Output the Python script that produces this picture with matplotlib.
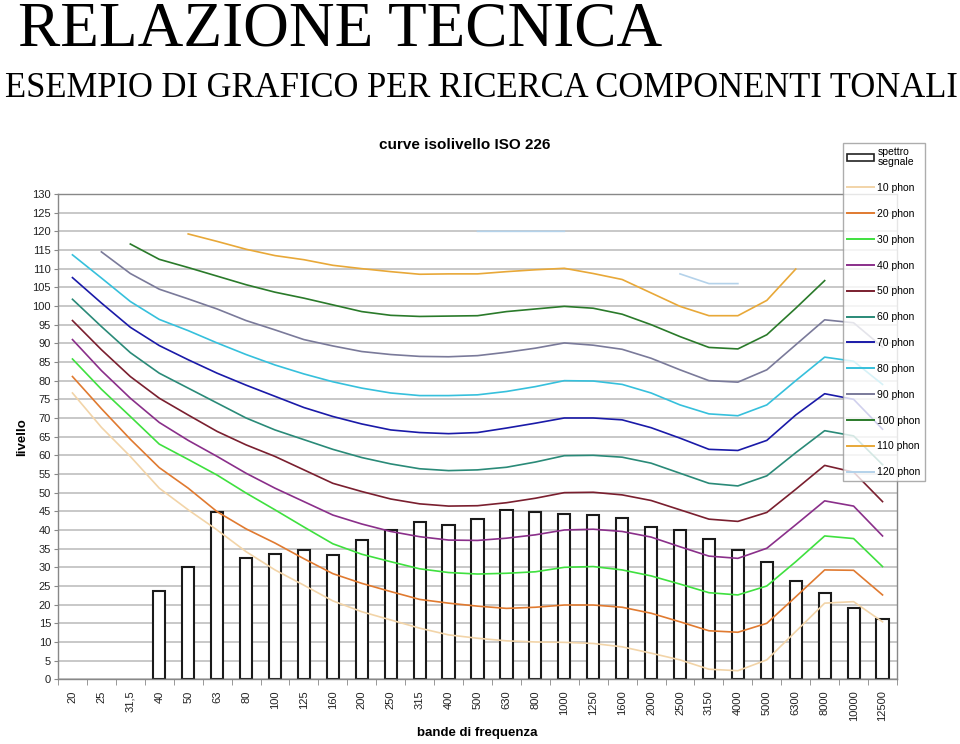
import numpy as np
import matplotlib
matplotlib.use("Agg")
import matplotlib.pyplot as plt
from matplotlib.patches import Patch
from matplotlib.lines import Line2D

nan = np.nan

# bande di frequenza (terzi d'ottava)
bande = ['20', '25', '31,5', '40', '50', '63', '80', '100', '125', '160', '200',
         '250', '315', '400', '500', '630', '800', '1000', '1250', '1600', '2000',
         '2500', '3150', '4000', '5000', '6300', '8000', '10000', '12500']

# spettro del segnale misurato
spettro = [nan, nan, nan, 23.7, 30.2, 44.7, 32.6, 33.5, 34.7, 33.4, 37.3, 39.9, 42.1, 41.3,
           43.0, 45.3, 44.8, 44.4, 43.9, 43.2, 40.9, 40.0, 37.5, 34.6, 31.4, 26.4, 23.1, 19.1, 16.1]

# curve isolivello
phon10 = [76.7, 67.5, 59.7, 51.2, 45.4, 40.0, 34.2, 29.3, 25.2, 21.0, 18.1, 15.9, 13.7, 11.9,
          11.0, 10.3, 10.0, 9.9, 9.6, 8.7, 7.0, 5.2, 2.7, 2.3, 5.2, 12.8, 20.4, 20.8, 15.4]
phon20 = [81.1, 72.5, 64.3, 56.7, 51.2, 44.9, 40.3, 36.5, 32.3, 28.3, 25.7, 23.5, 21.4, 20.4,
          19.6, 19.0, 19.3, 19.9, 19.9, 19.3, 17.7, 15.4, 13.0, 12.6, 15.0, 22.1, 29.3, 29.2, 22.6]
phon30 = [85.8, 77.7, 70.4, 63.0, 58.9, 54.7, 49.9, 45.4, 40.8, 36.3, 33.5, 31.5, 29.6, 28.6,
          28.2, 28.4, 28.8, 30.0, 30.2, 29.3, 27.7, 25.5, 23.2, 22.6, 25.0, 31.5, 38.4, 37.7, 30.2]
phon40 = [91.0, 82.7, 75.3, 68.8, 64.0, 59.7, 55.2, 51.2, 47.6, 44.0, 41.6, 39.6, 38.2, 37.3,
          37.2, 37.8, 38.7, 40.0, 40.2, 39.6, 38.1, 35.5, 33.0, 32.4, 35.1, 41.4, 47.8, 46.4, 38.4]
phon50 = [96.1, 88.3, 81.1, 75.3, 70.8, 66.4, 62.8, 59.7, 56.1, 52.5, 50.3, 48.3, 47.0, 46.4,
          46.5, 47.3, 48.5, 50.0, 50.1, 49.4, 47.9, 45.4, 42.9, 42.3, 44.7, 50.9, 57.3, 55.5, 47.6]
phon60 = [101.8, 94.5, 87.5, 82.0, 78.0, 74.0, 70.0, 66.8, 64.2, 61.6, 59.4, 57.7, 56.4, 55.9,
          56.1, 56.8, 58.2, 59.9, 60.0, 59.5, 57.9, 55.2, 52.5, 51.8, 54.5, 60.7, 66.6, 65.2, 57.5]
phon70 = [107.6, 100.8, 94.3, 89.4, 85.6, 82.0, 78.8, 75.8, 72.8, 70.4, 68.4, 66.8, 66.1, 65.8,
          66.1, 67.3, 68.6, 70.0, 70.0, 69.5, 67.4, 64.6, 61.6, 61.3, 64.0, 70.8, 76.5, 75.0, 67.0]
phon80 = [113.7, 107.5, 101.2, 96.4, 93.4, 90.1, 87.0, 84.2, 81.8, 79.7, 78.0, 76.7, 76.0, 76.0,
          76.2, 77.1, 78.4, 80.0, 79.9, 79.0, 76.7, 73.5, 71.1, 70.6, 73.5, 80.0, 86.3, 85.2, 79.0]
phon90 = [nan, 114.5, 108.7, 104.5, 101.9, 99.2, 96.1, 93.6, 91.0, 89.3, 87.8, 87.0, 86.5, 86.4,
          86.7, 87.6, 88.7, 90.1, 89.5, 88.4, 86.0, 82.9, 80.0, 79.6, 82.9, 89.6, 96.3, 95.5, 89.0]
phon100 = [nan, nan, 116.6, 112.5, 110.3, 108.0, 105.7, 103.7, 102.1, 100.3, 98.5, 97.5, 97.2, 97.3,
           97.4, 98.5, 99.2, 99.9, 99.4, 97.8, 95.0, 91.8, 88.9, 88.5, 92.3, 99.4, 106.8, nan, nan]
phon110 = [nan, nan, nan, nan, 119.3, 117.3, 115.2, 113.5, 112.4, 110.9, 110.0, 109.2, 108.5, 108.6,
           108.6, 109.2, 109.7, 110.1, 108.7, 107.1, 103.5, 99.9, 97.4, 97.4, 101.5, 109.9, nan, nan, nan]
phon120 = [nan, nan, nan, nan, nan, nan, nan, nan, nan, nan, nan, nan, nan, nan,
           120.0, 120.0, 120.0, 120.0, nan, nan, nan, 108.6, 106.0, 106.0, nan, nan, nan, nan, nan]

curve = [phon10, phon20, phon30, phon40, phon50, phon60, phon70, phon80, phon90, phon100, phon110, phon120]
nomi = ['10 phon', '20 phon', '30 phon', '40 phon', '50 phon', '60 phon', '70 phon',
        '80 phon', '90 phon', '100 phon', '110 phon', '120 phon']
colori = ['#f2d4a8', '#e07a30', '#3fe03f', '#8a2f8a', '#7a1f2f', '#2a8a78', '#1a1aa8',
          '#36c0dc', '#7a7a9a', '#2a7a2a', '#e8a838', '#b4d2ea']

plt.rcParams['font.family'] = ['Liberation Sans', 'DejaVu Sans']

fig = plt.figure(figsize=(9.6, 7.44), dpi=100)
ax = fig.add_axes([58 / 960, 1 - 679.3 / 744, 839 / 960, 485.3 / 744])

x = np.arange(len(bande))

ax.bar(x, np.array(spettro, dtype=float), width=0.42, facecolor='white',
       edgecolor='#1a1a1a', linewidth=1.5, zorder=2)

for valori, col in zip(curve, colori):
    ax.plot(x, np.array(valori, dtype=float), color=col, linewidth=1.2, zorder=3)

ax.set_xlim(-0.5, len(bande) - 0.5)
ax.set_ylim(0, 130)
ax.set_yticks(np.arange(0, 131, 5))
ax.yaxis.grid(True, color='#c4c4c4', linewidth=1.3, zorder=0)
ax.set_axisbelow(True)
for s in ax.spines.values():
    s.set_color('#888888')
    s.set_linewidth(1.0)

ax.set_xticks(x)
ax.set_xticklabels(bande, rotation=90, fontsize=8, color='#222222')
ax.set_xticks(np.arange(-0.5, len(bande), 1), minor=True)
ax.tick_params(axis='x', which='major', length=0, pad=8)
ax.tick_params(axis='x', which='minor', length=4, color='#888888')
ax.tick_params(axis='y', length=3, color='#888888', labelsize=8, labelcolor='#222222', pad=2)

ax.set_xlabel('bande di frequenza', fontsize=9.5, fontweight='bold', va='center')
ax.xaxis.set_label_coords(0.4994, -0.1107)
ax.set_ylabel('livello', fontsize=9.5, fontweight='bold', va='center')
ax.yaxis.set_label_coords(-0.043, 0.4993)

fig.text(465 / 960, 1 - 145 / 744, 'curve isolivello ISO 226', fontsize=11,
         fontweight='bold', ha='center', va='center')
fig.text(18 / 960, 1 - 46 / 744, 'RELAZIONE TECNICA', fontsize=45.5,
         family=['Liberation Serif', 'DejaVu Serif'], va='baseline', ha='left')
fig.text(5 / 960, 1 - 97 / 744, 'ESEMPIO DI GRAFICO PER RICERCA COMPONENTI TONALI', fontsize=24.9,
         family=['Liberation Serif', 'DejaVu Serif'], va='baseline', ha='left')

handles = [Patch(facecolor='white', edgecolor='#222222', linewidth=1.2)]
labels = ['spettro\nsegnale']
for n, col in zip(nomi, colori):
    handles.append(Line2D([], [], color=col, linewidth=1.4))
    labels.append(n)

leg = fig.legend(handles, labels, loc='upper left', bbox_to_anchor=(843 / 960, 1 - 143 / 744),
                 fontsize=7.5, frameon=True, fancybox=False, edgecolor='#999999',
                 handlelength=2.6, handleheight=0.7, handletextpad=0.3, labelspacing=1.52,
                 borderpad=0.4, borderaxespad=0)
leg.get_frame().set_linewidth(1.0)
leg.get_texts()[0].set_linespacing(1.0)

fig.savefig('out.png', dpi=100)
